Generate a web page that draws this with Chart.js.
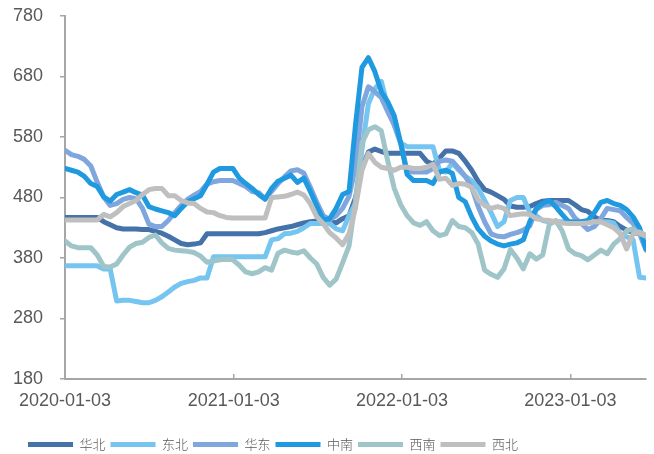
<!DOCTYPE html>
<html lang="zh">
<head>
    <meta charset="UTF-8">
    <title>分区域价格走势</title>
    <style>
        body {
            margin: 0;
            padding: 0;
            background: #ffffff;
        }
        #wrap {
            width: 654px;
            height: 454px;
        }
    </style>
</head>
<body>
    <div id="wrap"><canvas id="myChart"></canvas></div>

    <script src="https://cdn.jsdelivr.net/npm/chart.js"></script>
    <script>
        // 周度数据，每两周取一个点，从 2020-01-03 开始
        const startDate = '2020-01-03';
        const stepDays = 14;
        const yearTicks = ['2020-01-03', '2021-01-03', '2022-01-03', '2023-01-03'];

        const names = ['华北', '东北', '华东', '中南', '西南', '西北'];
        const colors = ['#4472a9', '#75c5f0', '#7fa6dd', '#1f9ae0', '#a0c5c8', '#bfbfbf'];

        const huabei = [447, 447, 447, 447, 447, 447, 440, 435, 430, 428,
            428, 428, 427, 427, 424, 421, 416, 410, 404, 402,
            403, 405, 420, 420, 420, 420, 420, 420, 420, 420,
            420, 422, 425, 428, 430, 432, 435, 438, 440, 441,
            442, 440, 438, 445, 450, 480, 530, 555, 560, 556,
            553, 553, 553, 553, 553, 553, 540, 535, 545, 557,
            557, 553, 540, 525, 507, 493, 489, 483, 477, 466,
            464, 464, 465, 470, 474, 475, 475, 475, 475, 468,
            460, 457, 448, 442, 442, 440, 432, 426, 422, 420, 417];
        const dongbei = [367, 367, 367, 367, 367, 367, 362, 362, 309, 310,
            310, 308, 306, 306, 310, 316, 324, 332, 338, 341,
            343, 347, 347, 382, 382, 382, 382, 382, 382, 382,
            382, 382, 410, 412, 420, 421, 424, 430, 437, 437,
            437, 437, 428, 425, 450, 470, 560, 635, 660, 672,
            630, 600, 570, 564, 564, 564, 564, 564, 525, 522,
            537, 525, 515, 508, 495, 475, 455, 432, 440, 475,
            480, 480, 455, 450, 442, 440, 440, 440, 440, 440,
            440, 440, 440, 440, 440, 438, 420, 415, 410, 348, 347];
        const huadong = [558, 551, 548, 543, 532, 505, 481, 467, 470, 477,
            480, 478, 462, 436, 432, 432, 442, 455, 467, 477,
            484, 490, 502, 506, 508, 508, 508, 503, 498, 490,
            488, 478, 490, 503, 514, 524, 526, 520, 497, 472,
            450, 443, 450, 462, 482, 530, 630, 663, 655, 645,
            622, 600, 570, 524, 522, 522, 522, 528, 540, 542,
            540, 528, 515, 497, 465, 440, 420, 416, 415, 419,
            422, 426, 433, 460, 467, 468, 472, 467, 462, 446,
            437, 427, 432, 445, 462, 460, 458, 447, 437, 420, 393];
        const zhongnan = [528, 525, 522, 515, 503, 498, 481, 474, 485, 489,
            493, 488, 484, 465, 461, 458, 455, 450, 462, 473,
            478, 483, 502, 522, 528, 528, 528, 512, 503, 495,
            485, 477, 495, 507, 512, 517, 505, 512, 490, 466,
            443, 445, 462, 485, 490, 600, 695, 711, 688, 655,
            638, 615, 570, 518, 508, 508, 508, 503, 522, 525,
            520, 480, 473, 448, 428, 416, 408, 403, 400, 403,
            405, 410, 440, 462, 470, 475, 465, 452, 440, 439,
            440, 442, 455, 472, 475, 470, 467, 460, 448, 430, 395];
        const xinan = [408, 400, 397, 397, 397, 385, 366, 365, 370, 385,
            398, 404, 406, 414, 418, 405, 396, 393, 392, 391,
            389, 383, 373, 375, 377, 378, 377, 368, 357, 354,
            357, 364, 360, 388, 393, 390, 388, 392, 380, 370,
            348, 335, 345, 372, 400, 475, 570, 592, 597, 590,
            540, 495, 468, 450, 438, 434, 440, 425, 417, 420,
            442, 432, 430, 422, 403, 360, 353, 348, 362, 394,
            380, 362, 387, 378, 385, 435, 442, 425, 395, 387,
            384, 377, 385, 393, 387, 403, 412, 425, 428, 420, 416];
        const xibei = [443, 443, 443, 443, 443, 443, 452, 448, 455, 465,
            470, 475, 485, 493, 495, 495, 483, 483, 475, 471,
            470, 462, 456, 455, 450, 447, 446, 446, 446, 446,
            446, 446, 480, 481, 482, 485, 489, 484, 470, 448,
            437, 422, 413, 402, 420, 463, 525, 553, 538, 530,
            528, 525, 530, 530, 528, 528, 530, 535, 510, 512,
            500, 503, 502, 497, 476, 467, 462, 465, 462, 450,
            452, 453, 452, 445, 443, 442, 440, 438, 437, 437,
            437, 438, 440, 440, 435, 430, 420, 395, 420, 423, 417];

        const allSeries = [huabei, dongbei, huadong, zhongnan, xinan, xibei];

        function dayOffset(dateStr) {
            const t0 = Date.parse(startDate + 'T00:00:00Z');
            const t = Date.parse(dateStr + 'T00:00:00Z');
            return Math.round((t - t0) / 86400000);
        }

        const days = huabei.map((v, i) => i * stepDays);
        const tickDays = yearTicks.map(dayOffset);
        const tickText = {};
        yearTicks.forEach((d, i) => { tickText[tickDays[i]] = d; });

        const datasets = allSeries.map((s, k) => ({
            label: names[k],
            data: s.map((v, i) => ({ x: days[i], y: v })),
            borderColor: colors[k],
            backgroundColor: colors[k],
            borderWidth: 5,
            borderJoinStyle: 'round',
            borderCapStyle: 'round',
            pointRadius: 0,
            tension: 0,
            fill: false,
            order: 5 - k   // 后面的系列画在上层
        }));

        // 图例位置偏左偏下，跟原图一致
        const legendShift = {
            id: 'legendShift',
            afterLayout: function(chart) {
                const lg = chart.legend;
                lg.left += 10;
                lg.right += 10;
                lg.top += 11;
                lg.bottom += 11;
            }
        };

        const fontFamily = "'Liberation Sans', Arial, sans-serif";

        new Chart(document.getElementById('myChart'), {
            type: 'line',
            data: { datasets: datasets },
            plugins: [legendShift],
            options: {
                responsive: true,
                maintainAspectRatio: false,
                animation: false,
                layout: { padding: { left: 13, right: 8, top: 16, bottom: 4 } },
                scales: {
                    x: {
                        type: 'linear',
                        min: 0,
                        max: days[days.length - 1],
                        afterBuildTicks: function(axis) {
                            axis.ticks = tickDays.map(v => ({ value: v }));
                        },
                        afterFit: function(scale) {
                            scale.height = 43;
                        },
                        ticks: {
                            autoSkip: false,
                            maxRotation: 0,
                            color: '#595959',
                            font: { family: fontFamily, size: 18 },
                            padding: 16,
                            callback: function(value) {
                                return tickText[value] || '';
                            }
                        },
                        grid: {
                            drawOnChartArea: false,
                            drawTicks: true,
                            tickLength: -5,
                            color: '#a6a6a6',
                            lineWidth: 1.5
                        },
                        border: { color: '#a6a6a6', width: 2 }
                    },
                    y: {
                        min: 180,
                        max: 780,
                        afterFit: function(scale) {
                            scale.width = 52;
                        },
                        ticks: {
                            stepSize: 100,
                            color: '#595959',
                            font: { family: fontFamily, size: 18 },
                            crossAlign: 'far',
                            padding: 0
                        },
                        grid: {
                            drawOnChartArea: false,
                            drawTicks: true,
                            tickLength: 5,
                            color: '#a6a6a6',
                            lineWidth: 1.5
                        },
                        border: { color: '#a6a6a6', width: 2 }
                    }
                },
                plugins: {
                    legend: {
                        position: 'bottom',
                        align: 'start',
                        labels: {
                            usePointStyle: true,
                            pointStyle: 'line',
                            pointStyleWidth: 45,
                            color: '#595959',
                            font: { family: "'Noto Sans CJK SC', sans-serif", size: 13, weight: '300' },
                            padding: 5,
                            sort: (a, b) => a.datasetIndex - b.datasetIndex
                        }
                    },
                    tooltip: { enabled: false }
                }
            }
        });
    </script>
</body>
</html>
